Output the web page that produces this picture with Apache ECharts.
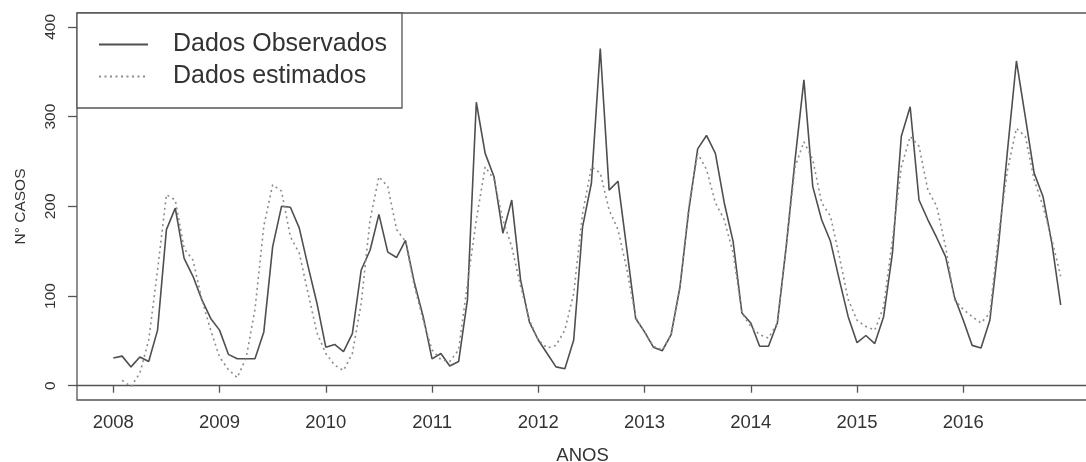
<!DOCTYPE html>
<html>
<head>
<meta charset="utf-8">
<script src="https://cdn.jsdelivr.net/npm/echarts@6/dist/echarts.min.js"></script>
<style>
html,body{margin:0;padding:0;background:#fff;}
#chart{width:1086px;height:462px;}
</style>
</head>
<body>
<div id="chart"></div>
<script>
// ---- data (monthly, Jan 2008 .. Dec 2016) ----
const startYear = 2008;
const seriesNames = ['Dados Observados', 'Dados estimados'];
const observed = [
  31, 33, 21, 32, 27, 62, 174, 198, 142, 122, 96, 75,
  62, 35, 30, 30, 30, 60, 155, 200, 199, 176, 133, 92,
  43, 46, 38, 58, 129, 151, 191, 149, 143, 162, 115, 77,
  30, 36, 22, 27, 96, 316, 259, 233, 170, 207, 118, 71,
  51, 36, 21, 19, 51, 177, 226, 376, 218, 228, 152, 75,
  60, 43, 39, 57, 110, 196, 264, 279, 259, 204, 161, 81,
  70, 44, 44, 70, 155, 252, 341, 222, 185, 161, 118, 77,
  48, 56, 47, 77, 148, 278, 311, 207, 185, 165, 144, 99,
  73, 45, 42, 73, 159, 263, 362, 300, 237, 211, 159, 90
];
const estimated = [
  null, 6, -1, 14, 51, 129, 213, 207, 153, 140, 96, 62,
  32, 18, 9, 31, 85, 178, 224, 217, 166, 148, 103, 59,
  36, 23, 17, 36, 92, 185, 233, 222, 174, 161, 111, 73,
  40, 29, 27, 40, 114, 185, 244, 230, 185, 155, 111, 73,
  51, 42, 45, 62, 103, 192, 244, 237, 196, 174, 130, 76,
  60, 44, 40, 57, 110, 200, 259, 241, 204, 185, 148, 81,
  66, 57, 53, 70, 155, 244, 272, 252, 204, 189, 144, 96,
  73, 66, 62, 88, 163, 244, 278, 267, 218, 200, 155, 96,
  85, 77, 70, 81, 170, 241, 287, 278, 230, 200, 163, 122
];
const xTicks = [2008, 2009, 2010, 2011, 2012, 2013, 2014, 2015, 2016];
const yTicks = [0, 100, 200, 300, 400];
const xTitle = 'ANOS';
const yTitle = 'N° CASOS';

function toPairs(arr) {
  const out = [];
  arr.forEach((v, i) => { if (v !== null) out.push([startYear + i / 12, v]); });
  return out;
}

const FONT = '"Liberation Sans", Arial, sans-serif';
const chart = echarts.init(document.getElementById('chart'), null, {renderer: 'canvas'});
chart.setOption({
  animation: false,
  backgroundColor: '#ffffff',
  grid: {
    left: 77, top: 13, right: -2, bottom: 62,
    containLabel: false, outerBoundsMode: 'none',
    show: true, borderColor: '#555', borderWidth: 1.3, backgroundColor: 'transparent'
  },
  legend: {
    left: 77, top: 13, orient: 'vertical',
    padding: [19, 15, 19, 21],
    itemWidth: 49, itemHeight: 14, itemGap: 7,
    borderColor: '#555', borderWidth: 1.3, borderRadius: 0,
    backgroundColor: '#fff',
    itemStyle: { opacity: 0 },
    textStyle: { fontSize: 25, fontFamily: FONT, color: '#333', lineHeight: 24, padding: [0, 0, 0, 20] },
    data: seriesNames
  },
  xAxis: {
    type: 'value',
    min: 2007.6584, max: 2017.1737,
    name: xTitle, nameLocation: 'middle', nameGap: 46,
    nameTextStyle: { fontSize: 18.5, fontFamily: FONT, color: '#333' },
    axisLine: { show: true, lineStyle: { color: '#555', width: 1.3 } },
    axisTick: { show: true, customValues: xTicks, length: 7, lineStyle: { color: '#555', width: 1.3 } },
    axisLabel: { customValues: xTicks, fontSize: 18.5, fontFamily: FONT, color: '#333', margin: 13.5,
      formatter: v => String(v) },
    splitLine: { show: false }
  },
  yAxis: {
    type: 'value',
    min: -15.9, max: 415.5,
    name: yTitle, nameLocation: 'middle', nameGap: 48, nameRotate: 90,
    nameTextStyle: { fontSize: 15.5, fontFamily: FONT, color: '#333' },
    axisLine: { show: false },
    axisTick: { show: true, customValues: yTicks, length: 9, lineStyle: { color: '#555', width: 1.3 } },
    axisLabel: { customValues: yTicks, rotate: 90, fontSize: 15.5, fontFamily: FONT, color: '#333', margin: 18,
      formatter: v => String(v) },
    splitLine: { show: false }
  },
  series: [
    {
      name: seriesNames[0], type: 'line', symbol: 'none', data: toPairs(observed),
      lineStyle: { color: '#4f4f4f', width: 1.6 }, itemStyle: { color: '#4f4f4f' }
    },
    {
      name: seriesNames[1], type: 'line', symbol: 'none', data: toPairs(estimated),
      lineStyle: { color: '#8c8c8c', width: 1.6, type: [2, 3.5] }, itemStyle: { color: '#8c8c8c' }
    }
  ]
});
</script>
</body>
</html>
